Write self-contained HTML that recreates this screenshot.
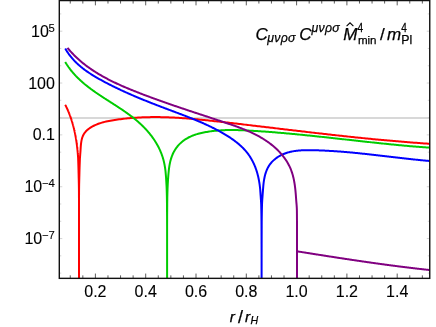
<!DOCTYPE html><html><head><meta charset="utf-8"><title>plot</title><style>html,body{margin:0;padding:0;background:#fff;overflow:hidden}svg{display:block}text{font-family:"Liberation Sans",sans-serif}</style></head><body><svg width="436" height="327" viewBox="0 0 436 327" style="will-change:transform">
<rect width="436" height="327" fill="#fff"/>
<clipPath id="c"><rect x="59.3" y="0.55" width="370.45" height="277.8"/></clipPath>
<line x1="59.3" x2="429.75" y1="118.0" y2="118.0" stroke="#d8d8d8" stroke-width="2"/>
<path d="M59.3 273.12h2.0 M429.75 273.12h-2.0 M59.3 255.84h2.0 M429.75 255.84h-2.0 M59.3 238.56h3.0 M429.75 238.56h-3.0 M59.3 221.28h2.0 M429.75 221.28h-2.0 M59.3 204.00h2.0 M429.75 204.00h-2.0 M59.3 186.72h3.0 M429.75 186.72h-3.0 M59.3 169.44h2.0 M429.75 169.44h-2.0 M59.3 152.16h2.0 M429.75 152.16h-2.0 M59.3 134.88h3.0 M429.75 134.88h-3.0 M59.3 117.60h2.0 M429.75 117.60h-2.0 M59.3 100.32h2.0 M429.75 100.32h-2.0 M59.3 83.04h3.0 M429.75 83.04h-3.0 M59.3 65.76h2.0 M429.75 65.76h-2.0 M59.3 48.48h2.0 M429.75 48.48h-2.0 M59.3 31.20h3.0 M429.75 31.20h-3.0 M59.3 13.92h2.0 M429.75 13.92h-2.0" stroke="#c8c8c8" stroke-width="0.8" fill="none"/>
<path d="M70.25 278.35v-3.0 M70.25 0.55v3.0 M82.83 278.35v-3.0 M82.83 0.55v3.0 M95.40 278.35v-4.8 M95.40 0.55v4.8 M107.98 278.35v-3.0 M107.98 0.55v3.0 M120.55 278.35v-3.0 M120.55 0.55v3.0 M133.12 278.35v-3.0 M133.12 0.55v3.0 M145.70 278.35v-4.8 M145.70 0.55v4.8 M158.28 278.35v-3.0 M158.28 0.55v3.0 M170.85 278.35v-3.0 M170.85 0.55v3.0 M183.43 278.35v-3.0 M183.43 0.55v3.0 M196.00 278.35v-4.8 M196.00 0.55v4.8 M208.57 278.35v-3.0 M208.57 0.55v3.0 M221.15 278.35v-3.0 M221.15 0.55v3.0 M233.73 278.35v-3.0 M233.73 0.55v3.0 M246.30 278.35v-4.8 M246.30 0.55v4.8 M258.88 278.35v-3.0 M258.88 0.55v3.0 M271.45 278.35v-3.0 M271.45 0.55v3.0 M284.02 278.35v-3.0 M284.02 0.55v3.0 M296.60 278.35v-4.8 M296.60 0.55v4.8 M309.18 278.35v-3.0 M309.18 0.55v3.0 M321.75 278.35v-3.0 M321.75 0.55v3.0 M334.33 278.35v-3.0 M334.33 0.55v3.0 M346.90 278.35v-4.8 M346.90 0.55v4.8 M359.48 278.35v-3.0 M359.48 0.55v3.0 M372.05 278.35v-3.0 M372.05 0.55v3.0 M384.62 278.35v-3.0 M384.62 0.55v3.0 M397.20 278.35v-4.8 M397.20 0.55v4.8 M409.78 278.35v-3.0 M409.78 0.55v3.0 M422.35 278.35v-3.0 M422.35 0.55v3.0" stroke="#333" stroke-width="0.8" fill="none"/>
<g clip-path="url(#c)" fill="none" stroke-linejoin="round" stroke-linecap="butt">
<path d="M65.21 104.69 L65.31 104.88 L65.41 105.08 L65.50 105.27 L65.60 105.46 L65.70 105.66 L65.79 105.85 L65.89 106.05 L65.99 106.24 L66.08 106.43 L66.18 106.63 L66.27 106.82 L66.36 107.02 L66.46 107.21 L66.55 107.41 L66.64 107.60 L66.73 107.80 L66.82 107.99 L66.91 108.19 L67.00 108.39 L67.09 108.58 L67.18 108.78 L67.27 108.97 L67.36 109.17 L67.45 109.37 L67.54 109.56 L67.62 109.76 L67.71 109.96 L67.80 110.15 L67.88 110.35 L67.97 110.55 L68.05 110.75 L68.14 110.94 L68.22 111.14 L68.30 111.34 L68.39 111.54 L68.47 111.73 L68.55 111.93 L68.63 112.13 L68.71 112.33 L68.80 112.53 L68.88 112.72 L68.96 112.92 L69.04 113.12 L69.11 113.32 L69.19 113.52 L69.27 113.72 L69.35 113.92 L69.43 114.12 L69.50 114.32 L69.58 114.52 L69.66 114.72 L69.73 114.91 L69.81 115.11 L69.88 115.31 L69.96 115.51 L70.03 115.71 L70.10 115.91 L70.18 116.12 L70.25 116.32 L70.32 116.52 L70.40 116.72 L70.47 116.92 L70.54 117.12 L70.61 117.32 L70.68 117.52 L70.75 117.72 L70.82 117.92 L70.89 118.12 L70.96 118.33 L71.03 118.53 L71.09 118.73 L71.16 118.93 L71.23 119.13 L71.29 119.34 L71.36 119.54 L71.43 119.74 L71.49 119.94 L71.56 120.14 L71.62 120.35 L71.69 120.55 L71.75 120.75 L71.82 120.96 L71.88 121.16 L71.94 121.36 L72.00 121.56 L72.07 121.77 L72.13 121.97 L72.19 122.17 L72.25 122.38 L72.31 122.58 L72.37 122.79 L72.43 122.99 L72.49 123.19 L72.55 123.40 L72.61 123.60 L72.67 123.81 L72.72 124.01 L72.78 124.21 L72.84 124.42 L72.90 124.62 L72.95 124.83 L73.01 125.03 L73.07 125.24 L73.12 125.44 L73.18 125.65 L73.23 125.85 L73.29 126.06 L73.34 126.26 L73.39 126.47 L73.45 126.67 L73.50 126.88 L73.55 127.08 L73.60 127.29 L73.66 127.50 L73.71 127.70 L73.76 127.91 L73.81 128.11 L73.86 128.32 L73.91 128.53 L73.96 128.73 L74.01 128.94 L74.06 129.15 L74.11 129.35 L74.16 129.56 L74.21 129.77 L74.25 129.97 L74.30 130.18 L74.35 130.39 L74.39 130.59 L74.44 130.80 L74.49 131.01 L74.53 131.21 L74.58 131.42 L74.62 131.63 L74.67 131.84 L74.71 132.04 L74.76 132.25 L74.80 132.46 L74.85 132.67 L74.89 132.87 L74.93 133.08 L74.97 133.29 L75.02 133.50 L75.06 133.71 L75.10 133.91 L75.14 134.12 L75.18 134.33 L75.22 134.54 L75.27 134.75 L75.31 134.96 L75.35 135.16 L75.38 135.37 L75.42 135.58 L75.46 135.79 L75.50 136.00 L75.54 136.21 L75.58 136.42 L75.62 136.63 L75.65 136.84 L75.69 137.04 L75.73 137.25 L75.76 137.46 L75.80 137.67 L75.84 137.88 L75.87 138.09 L75.91 138.30 L75.94 138.51 L75.98 138.72 L76.01 138.93 L76.05 139.14 L76.08 139.35 L76.12 139.56 L76.15 139.77 L76.18 139.98 L76.22 140.19 L76.25 140.40 L76.28 140.61 L76.31 140.82 L76.34 141.03 L76.38 141.24 L76.41 141.45 L76.44 141.66 L76.47 141.87 L76.50 142.08 L76.53 142.29 L76.56 142.50 L76.59 142.72 L76.62 142.93 L76.65 143.14 L76.68 143.35 L76.71 143.56 L76.74 143.77 L76.76 143.98 L76.79 144.19 L76.82 144.40 L76.85 144.61 L76.87 144.83 L76.90 145.04 L76.93 145.25 L76.95 145.46 L76.98 145.67 L77.01 145.88 L77.03 146.09 L77.06 146.31 L77.08 146.52 L77.11 146.73 L77.13 146.94 L77.16 147.15 L77.18 147.36 L77.21 147.58 L77.23 147.79 L77.25 148.00 L77.28 148.21 L77.30 148.42 L77.32 148.63 L77.34 148.85 L77.37 149.06 L77.39 149.27 L77.41 149.48 L77.43 149.70 L77.45 149.91 L77.48 150.12 L77.50 150.33 L77.52 150.54 L77.54 150.76 L77.56 150.97 L77.58 151.18 L77.60 151.39 L77.62 151.61 L77.64 151.82 L77.66 152.03 L77.68 152.24 L77.70 152.46 L77.72 152.67 L77.73 152.88 L77.75 153.10 L77.77 153.31 L77.79 153.52 L77.81 153.73 L77.82 153.95 L77.84 154.16 L77.86 154.37 L77.88 154.59 L77.89 154.80 L77.91 155.01 L77.93 155.22 L77.94 155.44 L77.96 155.65 L77.97 155.86 L77.99 156.08 L78.00 156.29 L78.02 156.50 L78.04 156.72 L78.05 156.93 L78.06 157.14 L78.08 157.36 L78.09 157.57 L78.11 157.78 L78.12 158.00 L78.21 160.45 L78.29 162.91 L78.37 165.36 L78.44 167.82 L78.51 170.28 L78.57 172.73 L78.63 175.19 L78.69 177.65 L78.75 180.10 L78.81 182.56 L78.86 185.01 L78.90 187.47 L78.93 189.93 L78.95 192.38 L78.96 194.84 L78.97 197.30 L78.98 199.75 L78.99 202.21 L78.99 204.66 L79.00 207.12 L79.00 209.58 L79.00 212.03 L79.00 214.49 L79.00 216.94 L79.00 219.40 L79.00 221.86 L79.00 224.31 L79.00 226.77 L79.00 229.23 L79.00 231.68 L79.00 234.14 L79.00 236.59 L79.00 239.05 L79.00 241.51 L79.00 243.96 L79.00 246.42 L79.00 248.88 L79.00 251.33 L79.00 253.79 L79.00 256.24 L79.00 258.70 L79.00 261.16 L79.00 263.61 L79.00 266.07 L79.00 268.53 L79.00 270.98 L79.00 273.44 L79.00 275.89 L79.00 278.35 L79.00 275.89 L79.00 273.44 L79.00 270.98 L79.00 268.53 L79.00 266.07 L79.00 263.62 L79.00 261.16 L79.00 258.71 L79.00 256.25 L79.00 253.80 L79.00 251.34 L79.00 248.89 L79.00 246.43 L79.00 243.98 L79.00 241.52 L79.00 239.07 L79.00 236.61 L79.00 234.16 L79.00 231.70 L79.00 229.25 L79.00 226.79 L79.00 224.34 L79.00 221.88 L79.00 219.43 L79.00 216.97 L79.00 214.52 L79.00 212.06 L79.00 209.61 L79.00 207.15 L79.01 204.70 L79.01 202.24 L79.02 199.79 L79.03 197.33 L79.04 194.87 L79.05 192.42 L79.06 189.96 L79.09 187.51 L79.13 185.05 L79.18 182.60 L79.24 180.14 L79.30 177.69 L79.37 175.23 L79.43 172.78 L79.50 170.32 L79.57 167.87 L79.65 165.41 L79.75 162.96 L79.84 160.50 L79.94 158.05 L80.05 156.63 L80.16 155.21 L80.27 153.78 L80.38 152.34 L80.49 150.87 L80.58 149.38 L80.68 147.88 L80.78 146.37 L80.91 144.85 L81.07 143.35 L81.28 141.86 L81.54 140.40 L81.86 138.97 L82.26 137.59 L82.75 136.25 L83.34 134.98 L84.04 133.77 L84.84 132.63 L85.73 131.56 L86.72 130.56 L87.77 129.62 L88.89 128.74 L90.07 127.91 L91.28 127.14 L92.53 126.42 L93.80 125.76 L95.10 125.14 L96.41 124.56 L97.75 124.03 L99.11 123.53 L100.48 123.08 L101.87 122.65 L103.27 122.26 L104.69 121.90 L106.11 121.57 L107.54 121.26 L108.98 120.97 L110.43 120.69 L111.88 120.44 L113.33 120.20 L114.78 119.97 L116.23 119.75 L117.68 119.54 L119.14 119.34 L120.59 119.15 L122.04 118.96 L123.49 118.79 L124.94 118.63 L126.39 118.47 L127.84 118.33 L129.29 118.19 L130.74 118.06 L132.19 117.94 L133.64 117.83 L135.09 117.73 L136.54 117.63 L137.99 117.55 L139.43 117.47 L140.88 117.40 L142.33 117.33 L143.78 117.28 L145.23 117.23 L146.68 117.19 L148.12 117.16 L149.57 117.13 L151.02 117.11 L152.47 117.09 L153.91 117.09 L155.36 117.09 L156.81 117.09 L158.25 117.11 L159.70 117.12 L161.15 117.15 L162.59 117.18 L164.04 117.22 L165.48 117.26 L166.93 117.31 L168.38 117.36 L169.82 117.42 L171.27 117.48 L172.71 117.55 L174.16 117.62 L175.60 117.70 L177.05 117.78 L178.49 117.87 L179.94 117.96 L181.38 118.05 L182.83 118.15 L184.27 118.26 L185.72 118.36 L187.16 118.48 L188.60 118.59 L190.05 118.71 L191.49 118.83 L192.94 118.96 L194.38 119.08 L195.82 119.22 L197.27 119.35 L198.71 119.49 L200.15 119.63 L201.60 119.77 L203.04 119.91 L204.48 120.06 L205.93 120.21 L207.37 120.36 L208.81 120.51 L210.25 120.66 L211.70 120.82 L213.14 120.98 L214.58 121.14 L216.02 121.30 L217.47 121.46 L218.91 121.62 L220.35 121.78 L221.79 121.94 L223.24 122.11 L224.68 122.27 L226.12 122.44 L227.56 122.60 L229.01 122.77 L230.45 122.94 L231.89 123.10 L233.33 123.27 L234.77 123.44 L236.21 123.60 L237.66 123.77 L239.10 123.94 L240.54 124.11 L241.98 124.28 L243.42 124.45 L244.87 124.62 L246.31 124.79 L247.75 124.96 L249.19 125.13 L250.63 125.30 L252.07 125.47 L253.51 125.64 L254.96 125.81 L256.40 125.98 L257.84 126.15 L259.28 126.32 L260.72 126.49 L262.16 126.66 L263.60 126.83 L265.04 127.01 L266.49 127.18 L267.93 127.35 L269.37 127.52 L270.81 127.69 L272.25 127.86 L273.69 128.04 L275.13 128.21 L276.57 128.38 L278.02 128.55 L279.46 128.72 L280.90 128.89 L282.34 129.06 L283.78 129.24 L285.22 129.41 L286.66 129.58 L288.10 129.75 L289.55 129.92 L290.99 130.09 L292.43 130.26 L293.87 130.43 L295.31 130.60 L296.75 130.77 L298.19 130.94 L299.64 131.11 L301.08 131.28 L302.52 131.45 L303.96 131.61 L305.40 131.78 L306.84 131.95 L308.28 132.12 L309.73 132.29 L311.17 132.45 L312.61 132.62 L314.05 132.79 L315.49 132.95 L316.93 133.12 L318.38 133.28 L319.82 133.45 L321.26 133.61 L322.70 133.77 L324.14 133.94 L325.59 134.10 L327.03 134.26 L328.47 134.42 L329.91 134.59 L331.35 134.75 L332.80 134.91 L334.24 135.07 L335.68 135.23 L337.12 135.38 L338.57 135.54 L340.01 135.70 L341.45 135.86 L342.89 136.01 L344.34 136.17 L345.78 136.32 L347.22 136.48 L348.66 136.63 L350.11 136.79 L351.55 136.94 L352.99 137.09 L354.44 137.24 L355.88 137.39 L357.32 137.54 L358.77 137.69 L360.21 137.84 L361.65 137.98 L363.10 138.13 L364.54 138.27 L365.98 138.42 L367.43 138.56 L368.87 138.71 L370.32 138.85 L371.76 138.99 L373.20 139.13 L374.65 139.27 L376.09 139.41 L377.54 139.54 L378.98 139.68 L380.43 139.82 L381.87 139.95 L383.32 140.09 L384.76 140.22 L386.21 140.35 L387.65 140.48 L389.10 140.61 L390.54 140.74 L391.99 140.87 L393.43 140.99 L394.88 141.12 L396.32 141.24 L397.77 141.37 L399.22 141.49 L400.66 141.61 L402.11 141.73 L403.56 141.85 L405.00 141.97 L406.45 142.08 L407.90 142.20 L409.34 142.31 L410.79 142.42 L412.24 142.54 L413.68 142.65 L415.13 142.75 L416.58 142.86 L418.03 142.97 L419.47 143.07 L420.92 143.18 L422.37 143.28 L423.82 143.38 L425.27 143.48 L426.71 143.58 L428.16 143.68 L429.61 143.77" stroke="#ff0000" stroke-width="2.0"/>
<path d="M65.19 61.95 L65.50 62.47 L65.82 62.99 L66.14 63.51 L66.47 64.02 L66.79 64.53 L67.12 65.03 L67.46 65.53 L67.80 66.03 L68.14 66.52 L68.48 67.01 L68.83 67.49 L69.18 67.98 L69.54 68.45 L69.89 68.93 L70.25 69.40 L70.62 69.87 L70.99 70.33 L71.36 70.80 L71.73 71.25 L72.10 71.71 L72.48 72.16 L72.87 72.61 L73.25 73.05 L73.64 73.50 L74.03 73.94 L74.42 74.37 L74.82 74.81 L75.22 75.24 L75.62 75.66 L76.02 76.09 L76.43 76.51 L76.84 76.93 L77.25 77.35 L77.66 77.76 L78.08 78.17 L78.50 78.58 L78.92 78.98 L79.35 79.39 L79.77 79.79 L80.20 80.19 L80.63 80.58 L81.06 80.98 L81.50 81.37 L81.94 81.76 L82.38 82.14 L82.82 82.53 L83.26 82.91 L83.71 83.29 L84.15 83.67 L84.60 84.04 L85.05 84.42 L85.51 84.79 L85.96 85.16 L86.42 85.53 L86.88 85.89 L87.34 86.26 L87.80 86.62 L88.26 86.98 L88.73 87.34 L89.19 87.69 L89.66 88.05 L90.13 88.40 L90.60 88.76 L91.08 89.11 L91.55 89.45 L92.03 89.80 L92.50 90.15 L92.98 90.49 L93.46 90.84 L93.94 91.18 L94.42 91.52 L94.90 91.86 L95.39 92.20 L95.87 92.54 L96.36 92.87 L96.85 93.21 L97.34 93.54 L97.82 93.87 L98.31 94.21 L98.80 94.54 L99.30 94.87 L99.79 95.20 L100.28 95.53 L100.78 95.85 L101.27 96.18 L101.77 96.51 L102.26 96.83 L102.76 97.16 L103.25 97.48 L103.75 97.81 L104.25 98.13 L104.75 98.46 L105.25 98.78 L105.75 99.10 L106.25 99.42 L106.75 99.74 L107.25 100.07 L107.75 100.39 L108.25 100.71 L108.75 101.03 L109.25 101.35 L109.75 101.67 L110.25 101.99 L110.75 102.31 L111.25 102.63 L111.75 102.95 L112.25 103.27 L112.75 103.60 L113.25 103.92 L113.75 104.24 L114.25 104.56 L114.75 104.88 L115.25 105.20 L115.75 105.53 L116.25 105.85 L116.75 106.18 L117.25 106.50 L117.74 106.82 L118.24 107.15 L118.74 107.48 L119.23 107.80 L119.73 108.13 L120.22 108.46 L120.72 108.79 L121.21 109.12 L121.70 109.45 L122.19 109.78 L122.68 110.11 L123.17 110.44 L123.66 110.78 L124.15 111.11 L124.64 111.45 L125.12 111.79 L125.61 112.13 L126.09 112.47 L126.58 112.81 L127.06 113.15 L127.54 113.50 L128.02 113.84 L128.49 114.19 L128.97 114.54 L129.45 114.89 L129.92 115.24 L130.39 115.59 L130.86 115.94 L131.33 116.30 L131.80 116.66 L132.27 117.02 L132.73 117.38 L133.20 117.74 L133.66 118.10 L134.12 118.47 L134.58 118.84 L135.03 119.21 L135.49 119.58 L135.94 119.96 L136.39 120.33 L136.84 120.71 L137.29 121.09 L137.74 121.47 L138.18 121.86 L138.62 122.25 L139.06 122.64 L139.50 123.03 L139.93 123.42 L140.36 123.82 L140.79 124.22 L141.22 124.62 L141.65 125.02 L142.07 125.43 L142.49 125.84 L142.91 126.25 L143.33 126.66 L143.74 127.08 L144.16 127.50 L144.56 127.92 L144.97 128.35 L145.37 128.77 L145.78 129.20 L146.17 129.63 L146.57 130.07 L146.96 130.51 L147.35 130.94 L147.74 131.39 L148.12 131.83 L148.50 132.28 L148.88 132.73 L149.26 133.18 L149.63 133.63 L150.00 134.09 L150.36 134.55 L150.72 135.01 L151.08 135.47 L151.44 135.94 L151.79 136.40 L152.14 136.88 L152.48 137.35 L152.82 137.82 L153.16 138.30 L153.50 138.78 L153.83 139.26 L154.15 139.75 L154.48 140.24 L154.80 140.72 L155.11 141.22 L155.42 141.71 L155.73 142.21 L156.04 142.71 L156.34 143.21 L156.63 143.71 L156.92 144.22 L157.21 144.72 L157.50 145.23 L157.78 145.75 L158.05 146.26 L158.32 146.78 L158.59 147.30 L158.85 147.82 L159.11 148.34 L159.36 148.87 L159.61 149.40 L159.85 149.93 L160.09 150.46 L160.33 150.99 L160.56 151.53 L160.79 152.07 L161.01 152.61 L161.22 153.15 L161.43 153.70 L161.64 154.25 L161.84 154.80 L162.04 155.35 L162.23 155.90 L162.42 156.46 L162.60 157.02 L162.77 157.58 L162.94 158.14 L163.11 158.71 L163.27 159.27 L163.43 159.84 L163.58 160.41 L163.72 160.98 L163.86 161.56 L163.99 162.14 L164.12 162.72 L164.25 163.30 L164.37 163.88 L164.48 164.46 L164.60 165.05 L164.70 165.63 L164.80 166.22 L164.90 166.81 L165.00 167.40 L165.09 167.99 L165.17 168.58 L165.25 169.17 L165.33 169.77 L165.41 170.36 L165.48 170.96 L165.68 173.15 L165.87 175.34 L166.04 177.53 L166.18 179.72 L166.32 181.92 L166.44 184.11 L166.55 186.30 L166.65 188.49 L166.72 190.68 L166.79 192.87 L166.85 195.07 L166.89 197.26 L166.93 199.45 L166.96 201.64 L166.98 203.83 L166.99 206.02 L167.01 208.22 L167.03 210.41 L167.04 212.60 L167.05 214.79 L167.07 216.98 L167.08 219.17 L167.08 221.37 L167.09 223.56 L167.10 225.75 L167.10 227.94 L167.10 230.13 L167.10 232.32 L167.10 234.52 L167.10 236.71 L167.10 238.90 L167.10 241.09 L167.10 243.28 L167.10 245.47 L167.10 247.67 L167.10 249.86 L167.10 252.05 L167.10 254.24 L167.10 256.43 L167.10 258.62 L167.10 260.82 L167.10 263.01 L167.10 265.20 L167.10 267.39 L167.10 269.58 L167.10 271.77 L167.10 273.97 L167.10 276.16 L167.10 278.35 L167.10 276.16 L167.10 273.97 L167.10 271.78 L167.10 269.59 L167.10 267.40 L167.10 265.21 L167.10 263.02 L167.10 260.83 L167.10 258.64 L167.10 256.45 L167.10 254.26 L167.10 252.07 L167.10 249.88 L167.10 247.69 L167.10 245.50 L167.10 243.31 L167.10 241.12 L167.10 238.93 L167.10 236.74 L167.10 234.55 L167.10 232.36 L167.10 230.17 L167.10 227.98 L167.10 225.79 L167.11 223.60 L167.12 221.41 L167.12 219.22 L167.13 217.04 L167.14 214.85 L167.16 212.66 L167.17 210.47 L167.19 208.28 L167.21 206.09 L167.22 203.90 L167.24 201.71 L167.27 199.52 L167.30 197.33 L167.35 195.14 L167.41 192.95 L167.48 190.76 L167.55 188.57 L167.64 186.38 L167.75 184.19 L167.88 182.00 L168.01 179.81 L168.16 177.62 L168.32 175.43 L168.51 173.24 L168.72 171.05 L168.84 169.92 L168.98 168.79 L169.13 167.66 L169.29 166.54 L169.47 165.43 L169.67 164.32 L169.89 163.21 L170.13 162.12 L170.39 161.03 L170.67 159.96 L170.98 158.89 L171.31 157.84 L171.67 156.80 L172.05 155.77 L172.46 154.76 L172.90 153.77 L173.36 152.80 L173.85 151.84 L174.37 150.90 L174.92 149.98 L175.50 149.08 L176.10 148.20 L176.73 147.35 L177.39 146.51 L178.07 145.70 L178.78 144.91 L179.51 144.14 L180.27 143.39 L181.05 142.67 L181.85 141.97 L182.67 141.30 L183.51 140.65 L184.38 140.02 L185.26 139.42 L186.17 138.84 L187.09 138.29 L188.03 137.76 L188.99 137.26 L189.96 136.79 L190.95 136.33 L191.96 135.91 L192.97 135.50 L194.00 135.12 L195.04 134.75 L196.09 134.41 L197.15 134.09 L198.22 133.78 L199.30 133.49 L200.38 133.22 L201.47 132.96 L202.56 132.72 L203.66 132.49 L204.75 132.28 L205.85 132.08 L206.95 131.89 L208.05 131.71 L209.15 131.54 L210.25 131.38 L211.35 131.23 L212.45 131.09 L213.55 130.96 L214.65 130.85 L215.74 130.74 L216.84 130.63 L217.94 130.54 L219.04 130.46 L220.13 130.38 L221.23 130.32 L222.33 130.26 L223.43 130.20 L224.52 130.16 L225.62 130.12 L226.71 130.09 L227.81 130.07 L228.91 130.05 L230.00 130.04 L231.10 130.03 L232.19 130.03 L233.29 130.04 L234.38 130.05 L235.48 130.07 L236.57 130.09 L237.66 130.11 L238.76 130.14 L239.85 130.18 L240.95 130.21 L242.04 130.26 L243.13 130.30 L244.23 130.35 L245.32 130.40 L246.41 130.45 L247.51 130.51 L248.60 130.57 L249.69 130.63 L250.79 130.69 L251.88 130.75 L252.97 130.82 L254.06 130.88 L255.16 130.95 L256.25 131.02 L257.34 131.09 L258.43 131.16 L259.53 131.23 L260.62 131.30 L261.71 131.38 L262.80 131.45 L263.89 131.53 L264.99 131.61 L266.08 131.69 L267.17 131.77 L268.26 131.85 L269.35 131.93 L270.44 132.02 L271.54 132.10 L272.63 132.19 L273.72 132.27 L274.81 132.36 L275.90 132.45 L276.99 132.54 L278.08 132.63 L279.17 132.72 L280.26 132.81 L281.35 132.91 L282.45 133.00 L283.54 133.10 L284.63 133.19 L285.72 133.29 L286.81 133.39 L287.90 133.49 L288.99 133.59 L290.08 133.69 L291.17 133.79 L292.26 133.89 L293.35 133.99 L294.44 134.09 L295.53 134.20 L296.62 134.30 L297.71 134.41 L298.80 134.51 L299.89 134.62 L300.98 134.73 L302.07 134.84 L303.16 134.94 L304.25 135.05 L305.34 135.16 L306.43 135.27 L307.52 135.39 L308.61 135.50 L309.70 135.61 L310.79 135.72 L311.88 135.83 L312.97 135.95 L314.05 136.06 L315.14 136.18 L316.23 136.29 L317.32 136.41 L318.41 136.52 L319.50 136.64 L320.59 136.75 L321.68 136.87 L322.77 136.99 L323.86 137.10 L324.95 137.22 L326.04 137.34 L327.13 137.46 L328.22 137.58 L329.30 137.70 L330.39 137.82 L331.48 137.93 L332.57 138.05 L333.66 138.17 L334.75 138.29 L335.84 138.41 L336.93 138.53 L338.02 138.65 L339.11 138.77 L340.20 138.90 L341.29 139.02 L342.37 139.14 L343.46 139.26 L344.55 139.38 L345.64 139.50 L346.73 139.62 L347.82 139.74 L348.91 139.86 L350.00 139.98 L351.09 140.10 L352.18 140.22 L353.27 140.34 L354.35 140.46 L355.44 140.58 L356.53 140.71 L357.62 140.83 L358.71 140.95 L359.80 141.06 L360.89 141.18 L361.98 141.30 L363.07 141.42 L364.16 141.54 L365.25 141.66 L366.34 141.78 L367.43 141.90 L368.52 142.02 L369.61 142.13 L370.70 142.25 L371.78 142.37 L372.87 142.48 L373.96 142.60 L375.05 142.72 L376.14 142.83 L377.23 142.95 L378.32 143.06 L379.41 143.17 L380.50 143.29 L381.59 143.40 L382.68 143.51 L383.77 143.63 L384.86 143.74 L385.95 143.85 L387.04 143.96 L388.13 144.07 L389.22 144.18 L390.31 144.29 L391.40 144.40 L392.49 144.50 L393.58 144.61 L394.67 144.72 L395.76 144.82 L396.85 144.93 L397.95 145.03 L399.04 145.14 L400.13 145.24 L401.22 145.34 L402.31 145.44 L403.40 145.54 L404.49 145.64 L405.58 145.74 L406.67 145.84 L407.76 145.94 L408.85 146.03 L409.95 146.13 L411.04 146.22 L412.13 146.32 L413.22 146.41 L414.31 146.50 L415.40 146.59 L416.49 146.68 L417.59 146.77 L418.68 146.86 L419.77 146.95 L420.86 147.03 L421.95 147.12 L423.05 147.20 L424.14 147.29 L425.23 147.37 L426.32 147.45 L427.42 147.53 L428.51 147.61 L429.60 147.69" stroke="#00cc00" stroke-width="2.0"/>
<path d="M65.21 48.40 L65.72 49.29 L66.24 50.16 L66.77 51.03 L67.31 51.87 L67.87 52.71 L68.43 53.53 L69.01 54.34 L69.60 55.14 L70.20 55.92 L70.81 56.69 L71.43 57.45 L72.06 58.20 L72.70 58.94 L73.35 59.67 L74.01 60.38 L74.68 61.09 L75.36 61.78 L76.04 62.46 L76.74 63.14 L77.44 63.80 L78.15 64.45 L78.87 65.10 L79.60 65.73 L80.34 66.36 L81.08 66.98 L81.83 67.58 L82.58 68.18 L83.35 68.78 L84.12 69.36 L84.89 69.94 L85.67 70.51 L86.46 71.07 L87.25 71.62 L88.05 72.17 L88.86 72.71 L89.66 73.25 L90.48 73.78 L91.29 74.30 L92.12 74.82 L92.94 75.33 L93.77 75.84 L94.60 76.34 L95.44 76.84 L96.28 77.33 L97.12 77.82 L97.97 78.30 L98.81 78.78 L99.66 79.26 L100.52 79.73 L101.37 80.20 L102.22 80.67 L103.08 81.13 L103.94 81.59 L104.80 82.05 L105.66 82.51 L106.52 82.96 L107.38 83.41 L108.25 83.86 L109.12 84.30 L109.98 84.75 L110.85 85.19 L111.72 85.62 L112.59 86.06 L113.47 86.49 L114.34 86.92 L115.21 87.35 L116.09 87.77 L116.97 88.20 L117.84 88.62 L118.72 89.03 L119.60 89.45 L120.49 89.86 L121.37 90.28 L122.25 90.69 L123.14 91.09 L124.02 91.50 L124.91 91.90 L125.80 92.30 L126.68 92.70 L127.57 93.10 L128.46 93.50 L129.35 93.89 L130.25 94.28 L131.14 94.67 L132.03 95.06 L132.93 95.45 L133.82 95.83 L134.72 96.21 L135.62 96.59 L136.51 96.97 L137.41 97.35 L138.31 97.73 L139.21 98.10 L140.11 98.48 L141.01 98.85 L141.91 99.22 L142.82 99.59 L143.72 99.96 L144.62 100.33 L145.53 100.69 L146.43 101.05 L147.34 101.42 L148.24 101.78 L149.15 102.14 L150.06 102.50 L150.96 102.86 L151.87 103.22 L152.78 103.57 L153.69 103.93 L154.60 104.28 L155.50 104.63 L156.41 104.99 L157.32 105.34 L158.23 105.69 L159.15 106.04 L160.06 106.39 L160.97 106.74 L161.88 107.08 L162.79 107.43 L163.70 107.78 L164.61 108.12 L165.53 108.47 L166.44 108.81 L167.35 109.16 L168.26 109.50 L169.18 109.84 L170.09 110.19 L171.00 110.53 L171.92 110.87 L172.83 111.21 L173.74 111.55 L174.65 111.90 L175.57 112.24 L176.48 112.58 L177.39 112.92 L178.30 113.27 L179.21 113.61 L180.13 113.95 L181.04 114.30 L181.95 114.64 L182.86 114.99 L183.77 115.34 L184.68 115.69 L185.58 116.04 L186.49 116.39 L187.40 116.74 L188.31 117.10 L189.21 117.45 L190.12 117.81 L191.02 118.17 L191.92 118.53 L192.83 118.89 L193.73 119.26 L194.63 119.63 L195.53 119.99 L196.42 120.37 L197.32 120.74 L198.22 121.12 L199.11 121.50 L200.01 121.88 L200.90 122.26 L201.79 122.65 L202.68 123.04 L203.57 123.44 L204.45 123.83 L205.34 124.23 L206.22 124.64 L207.11 125.04 L207.99 125.45 L208.87 125.87 L209.74 126.29 L210.62 126.71 L211.49 127.13 L212.37 127.56 L213.24 128.00 L214.11 128.44 L214.97 128.88 L215.84 129.33 L216.70 129.78 L217.56 130.23 L218.42 130.70 L219.28 131.16 L220.13 131.63 L220.98 132.11 L221.83 132.59 L222.68 133.07 L223.53 133.56 L224.37 134.06 L225.21 134.56 L226.05 135.07 L226.88 135.58 L227.72 136.10 L228.54 136.63 L229.36 137.16 L230.18 137.70 L230.99 138.25 L231.80 138.80 L232.60 139.36 L233.40 139.93 L234.19 140.50 L234.97 141.09 L235.74 141.68 L236.51 142.28 L237.27 142.89 L238.02 143.50 L238.76 144.13 L239.50 144.76 L240.22 145.41 L240.94 146.06 L241.64 146.72 L242.34 147.40 L243.02 148.08 L243.69 148.77 L244.35 149.47 L245.00 150.19 L245.64 150.91 L246.26 151.65 L246.87 152.40 L247.47 153.15 L248.06 153.92 L248.63 154.70 L249.18 155.50 L249.73 156.30 L250.25 157.12 L250.77 157.95 L251.26 158.79 L251.75 159.64 L252.22 160.49 L252.67 161.36 L253.11 162.24 L253.54 163.12 L253.95 164.01 L254.35 164.91 L254.74 165.82 L255.11 166.73 L255.46 167.65 L255.80 168.57 L256.13 169.50 L256.45 170.43 L256.75 171.37 L257.03 172.30 L257.31 173.25 L257.57 174.19 L257.81 175.14 L258.05 176.08 L258.27 177.03 L258.48 177.98 L258.67 178.94 L258.86 179.89 L259.03 180.85 L259.20 181.81 L259.36 182.77 L259.50 183.73 L259.64 184.69 L259.77 185.65 L259.89 186.62 L260.00 187.58 L260.11 188.55 L260.20 189.52 L260.33 191.33 L260.46 193.14 L260.58 194.96 L260.71 196.77 L260.84 198.58 L260.97 200.39 L261.08 202.21 L261.17 204.02 L261.22 205.83 L261.26 207.65 L261.30 209.46 L261.34 211.27 L261.37 213.09 L261.40 214.90 L261.42 216.71 L261.44 218.52 L261.46 220.34 L261.48 222.15 L261.49 223.96 L261.50 225.78 L261.51 227.59 L261.51 229.40 L261.52 231.21 L261.52 233.03 L261.53 234.84 L261.54 236.65 L261.54 238.47 L261.55 240.28 L261.55 242.09 L261.56 243.90 L261.56 245.72 L261.57 247.53 L261.57 249.34 L261.57 251.16 L261.58 252.97 L261.58 254.78 L261.58 256.60 L261.59 258.41 L261.59 260.22 L261.59 262.03 L261.59 263.85 L261.59 265.66 L261.60 267.47 L261.60 269.29 L261.60 271.10 L261.60 272.91 L261.60 274.72 L261.60 276.54 L261.60 278.35 L261.60 276.53 L261.60 274.70 L261.60 272.88 L261.60 271.06 L261.60 269.24 L261.60 267.41 L261.61 265.59 L261.61 263.77 L261.61 261.95 L261.61 260.12 L261.61 258.30 L261.62 256.48 L261.62 254.66 L261.62 252.83 L261.63 251.01 L261.63 249.19 L261.64 247.37 L261.64 245.54 L261.64 243.72 L261.65 241.90 L261.65 240.08 L261.66 238.25 L261.66 236.43 L261.67 234.61 L261.68 232.79 L261.68 230.96 L261.69 229.14 L261.70 227.32 L261.70 225.50 L261.71 223.67 L261.72 221.85 L261.74 220.03 L261.76 218.21 L261.78 216.38 L261.81 214.56 L261.84 212.74 L261.87 210.91 L261.91 209.09 L261.95 207.27 L261.99 205.45 L262.05 203.62 L262.14 201.80 L262.25 199.98 L262.38 198.16 L262.52 196.33 L262.65 194.51 L262.78 192.69 L262.92 190.87 L263.07 189.04 L263.12 188.30 L263.17 187.56 L263.23 186.82 L263.29 186.08 L263.36 185.34 L263.43 184.60 L263.51 183.86 L263.59 183.12 L263.69 182.38 L263.79 181.64 L263.89 180.90 L264.01 180.16 L264.13 179.43 L264.27 178.69 L264.41 177.96 L264.56 177.23 L264.72 176.50 L264.90 175.78 L265.08 175.05 L265.28 174.34 L265.49 173.63 L265.71 172.92 L265.94 172.22 L266.19 171.52 L266.45 170.83 L266.73 170.15 L267.01 169.48 L267.32 168.81 L267.64 168.16 L267.97 167.51 L268.32 166.87 L268.69 166.25 L269.07 165.63 L269.47 165.03 L269.89 164.43 L270.32 163.85 L270.77 163.28 L271.24 162.73 L271.72 162.18 L272.22 161.65 L272.73 161.13 L273.25 160.62 L273.79 160.13 L274.34 159.65 L274.90 159.18 L275.47 158.72 L276.05 158.28 L276.64 157.85 L277.24 157.43 L277.85 157.03 L278.47 156.64 L279.09 156.26 L279.72 155.89 L280.36 155.54 L281.00 155.21 L281.65 154.89 L282.31 154.58 L282.96 154.28 L283.63 154.00 L284.29 153.73 L284.96 153.47 L285.64 153.23 L286.32 152.99 L287.00 152.77 L287.69 152.56 L288.38 152.36 L289.08 152.17 L289.78 151.99 L290.48 151.82 L291.19 151.67 L291.89 151.52 L292.61 151.38 L293.32 151.25 L294.04 151.13 L294.76 151.02 L295.48 150.91 L296.21 150.82 L296.94 150.73 L297.67 150.65 L298.40 150.57 L299.13 150.51 L299.87 150.45 L300.61 150.40 L301.35 150.35 L302.09 150.31 L302.83 150.27 L303.57 150.24 L304.32 150.22 L305.06 150.20 L305.81 150.18 L306.56 150.17 L307.31 150.17 L308.05 150.16 L308.80 150.16 L309.55 150.17 L310.30 150.17 L311.05 150.18 L311.80 150.19 L312.55 150.21 L313.30 150.22 L314.05 150.24 L314.80 150.26 L315.54 150.28 L316.29 150.30 L317.04 150.32 L317.78 150.34 L318.53 150.37 L319.27 150.40 L320.01 150.42 L320.76 150.45 L321.50 150.48 L322.24 150.51 L322.98 150.54 L323.73 150.58 L324.47 150.61 L325.21 150.65 L325.95 150.68 L326.69 150.72 L327.42 150.76 L328.16 150.80 L328.90 150.84 L329.64 150.88 L330.37 150.92 L331.11 150.97 L331.85 151.01 L332.58 151.06 L333.32 151.10 L334.05 151.15 L334.79 151.20 L335.52 151.25 L336.26 151.30 L336.99 151.35 L337.72 151.40 L338.45 151.46 L339.19 151.51 L339.92 151.57 L340.65 151.62 L341.38 151.68 L342.11 151.74 L342.84 151.80 L343.57 151.85 L344.30 151.91 L345.03 151.97 L345.76 152.04 L346.49 152.10 L347.22 152.16 L347.95 152.23 L348.68 152.29 L349.41 152.36 L350.13 152.42 L350.86 152.49 L351.59 152.55 L352.32 152.62 L353.04 152.69 L353.77 152.76 L354.50 152.83 L355.22 152.90 L355.95 152.97 L356.67 153.04 L357.40 153.11 L358.12 153.19 L358.85 153.26 L359.58 153.33 L360.30 153.41 L361.03 153.48 L361.75 153.56 L362.48 153.63 L363.20 153.71 L363.92 153.79 L364.65 153.86 L365.37 153.94 L366.10 154.02 L366.82 154.10 L367.55 154.18 L368.27 154.26 L368.99 154.34 L369.72 154.42 L370.44 154.50 L371.17 154.58 L371.89 154.66 L372.61 154.74 L373.34 154.82 L374.06 154.90 L374.79 154.98 L375.51 155.07 L376.23 155.15 L376.96 155.23 L377.68 155.31 L378.40 155.40 L379.13 155.48 L379.85 155.56 L380.58 155.65 L381.30 155.73 L382.03 155.81 L382.75 155.90 L383.47 155.98 L384.20 156.07 L384.92 156.15 L385.65 156.24 L386.37 156.32 L387.10 156.41 L387.82 156.49 L388.55 156.58 L389.27 156.66 L390.00 156.74 L390.73 156.83 L391.45 156.91 L392.18 157.00 L392.90 157.08 L393.63 157.17 L394.36 157.25 L395.08 157.34 L395.81 157.42 L396.54 157.51 L397.27 157.59 L397.99 157.67 L398.72 157.76 L399.45 157.84 L400.18 157.93 L400.91 158.01 L401.64 158.09 L402.37 158.18 L403.10 158.26 L403.83 158.34 L404.56 158.42 L405.29 158.50 L406.02 158.59 L406.75 158.67 L407.48 158.75 L408.21 158.83 L408.94 158.91 L409.68 158.99 L410.41 159.07 L411.14 159.15 L411.88 159.23 L412.61 159.31 L413.35 159.39 L414.08 159.47 L414.82 159.54 L415.55 159.62 L416.29 159.70 L417.02 159.77 L417.76 159.85 L418.50 159.92 L419.24 160.00 L419.98 160.07 L420.71 160.15 L421.45 160.22 L422.19 160.29 L422.93 160.37 L423.67 160.44 L424.42 160.51 L425.16 160.58 L425.90 160.65 L426.64 160.72 L427.39 160.79 L428.13 160.85 L428.87 160.92 L429.62 160.99" stroke="#0000ff" stroke-width="2.0"/>
<path d="M67.50 47.87 L68.23 48.75 L68.97 49.62 L69.72 50.48 L70.47 51.32 L71.24 52.16 L72.01 52.99 L72.79 53.81 L73.57 54.62 L74.37 55.42 L75.17 56.21 L75.98 56.99 L76.79 57.76 L77.62 58.53 L78.45 59.28 L79.29 60.02 L80.13 60.76 L80.98 61.48 L81.84 62.20 L82.70 62.91 L83.57 63.61 L84.45 64.31 L85.33 64.99 L86.22 65.67 L87.11 66.34 L88.02 67.00 L88.92 67.65 L89.83 68.29 L90.75 68.93 L91.67 69.56 L92.60 70.19 L93.53 70.80 L94.47 71.41 L95.42 72.01 L96.36 72.61 L97.32 73.20 L98.27 73.78 L99.24 74.35 L100.20 74.92 L101.17 75.48 L102.15 76.04 L103.13 76.59 L104.11 77.14 L105.10 77.67 L106.09 78.21 L107.08 78.73 L108.08 79.26 L109.08 79.77 L110.09 80.28 L111.09 80.79 L112.10 81.29 L113.12 81.79 L114.13 82.28 L115.15 82.77 L116.18 83.25 L117.20 83.73 L118.23 84.20 L119.26 84.67 L120.29 85.13 L121.32 85.60 L122.36 86.05 L123.40 86.51 L124.44 86.96 L125.48 87.40 L126.52 87.85 L127.56 88.28 L128.61 88.72 L129.66 89.15 L130.70 89.58 L131.75 90.01 L132.80 90.44 L133.85 90.86 L134.90 91.28 L135.96 91.69 L137.01 92.11 L138.06 92.52 L139.11 92.93 L140.17 93.34 L141.22 93.75 L142.27 94.15 L143.33 94.56 L144.38 94.96 L145.43 95.36 L146.49 95.75 L147.54 96.15 L148.60 96.54 L149.65 96.93 L150.71 97.33 L151.76 97.71 L152.82 98.10 L153.87 98.49 L154.93 98.87 L155.98 99.26 L157.04 99.64 L158.09 100.02 L159.15 100.40 L160.20 100.77 L161.26 101.15 L162.32 101.53 L163.37 101.90 L164.43 102.27 L165.49 102.64 L166.55 103.01 L167.60 103.38 L168.66 103.75 L169.72 104.12 L170.78 104.49 L171.84 104.85 L172.89 105.21 L173.95 105.58 L175.01 105.94 L176.07 106.30 L177.13 106.66 L178.19 107.02 L179.25 107.38 L180.31 107.74 L181.37 108.10 L182.43 108.46 L183.50 108.81 L184.56 109.17 L185.62 109.53 L186.68 109.88 L187.74 110.23 L188.80 110.59 L189.87 110.94 L190.93 111.30 L191.99 111.65 L193.06 112.00 L194.12 112.35 L195.19 112.71 L196.25 113.06 L197.32 113.41 L198.38 113.76 L199.45 114.11 L200.51 114.46 L201.58 114.82 L202.64 115.17 L203.71 115.52 L204.78 115.87 L205.85 116.22 L206.91 116.57 L207.98 116.92 L209.05 117.28 L210.12 117.63 L211.19 117.98 L212.26 118.33 L213.33 118.69 L214.40 119.04 L215.47 119.39 L216.54 119.75 L217.61 120.10 L218.68 120.46 L219.75 120.81 L220.83 121.17 L221.90 121.53 L222.97 121.88 L224.05 122.24 L225.12 122.60 L226.19 122.96 L227.27 123.32 L228.34 123.68 L229.41 124.05 L230.49 124.41 L231.56 124.78 L232.63 125.15 L233.70 125.53 L234.77 125.91 L235.84 126.29 L236.90 126.67 L237.97 127.06 L239.03 127.46 L240.09 127.86 L241.14 128.26 L242.20 128.67 L243.25 129.08 L244.30 129.51 L245.35 129.93 L246.39 130.37 L247.43 130.81 L248.46 131.25 L249.49 131.71 L250.52 132.17 L251.55 132.64 L252.56 133.12 L253.58 133.61 L254.59 134.10 L255.59 134.61 L256.59 135.12 L257.59 135.65 L258.57 136.18 L259.56 136.73 L260.53 137.28 L261.50 137.85 L262.47 138.42 L263.43 139.01 L264.38 139.61 L265.32 140.22 L266.26 140.85 L267.19 141.48 L268.11 142.13 L269.03 142.79 L269.93 143.47 L270.83 144.15 L271.72 144.85 L272.59 145.56 L273.46 146.28 L274.32 147.02 L275.16 147.77 L275.99 148.52 L276.81 149.29 L277.62 150.08 L278.41 150.87 L279.19 151.68 L279.95 152.49 L280.70 153.32 L281.44 154.17 L282.16 155.02 L282.86 155.89 L283.55 156.76 L284.22 157.65 L284.87 158.55 L285.51 159.46 L286.12 160.39 L286.72 161.32 L287.30 162.27 L287.86 163.22 L288.40 164.19 L288.91 165.17 L289.41 166.17 L289.89 167.17 L290.34 168.19 L290.77 169.21 L291.18 170.25 L291.56 171.30 L291.93 172.36 L292.27 173.42 L292.59 174.50 L292.89 175.59 L293.17 176.68 L293.44 177.78 L293.69 178.89 L293.92 180.01 L294.13 181.13 L294.33 182.25 L294.52 183.38 L294.70 184.52 L294.86 185.65 L295.01 186.79 L295.15 187.94 L295.28 189.08 L295.40 190.22 L295.52 191.37 L295.62 192.51 L295.72 193.65 L295.82 194.80 L295.90 195.94 L295.99 197.07 L296.07 198.21 L296.15 199.34 L296.23 200.46 L296.36 202.05 L296.50 203.64 L296.63 205.23 L296.74 206.82 L296.82 208.41 L296.88 210.00 L296.91 211.59 L296.92 213.18 L296.94 214.77 L296.95 216.36 L296.96 217.95 L296.97 219.54 L296.98 221.13 L296.99 222.72 L296.99 224.31 L297.00 225.90 L297.00 227.49 L297.00 229.08 L297.00 230.66 L297.00 232.25 L297.00 233.84 L297.00 235.43 L297.00 237.02 L297.00 238.61 L297.00 240.20 L297.00 241.79 L297.00 243.38 L297.00 244.97 L297.00 246.56 L297.00 248.15 L297.00 249.74 L297.00 251.33 L297.00 252.92 L297.00 254.51 L297.00 256.10 L297.00 257.69 L297.00 259.28 L297.00 260.87 L297.00 262.45 L297.00 264.04 L297.00 265.63 L297.00 267.22 L297.00 268.81 L297.00 270.40 L297.00 271.99 L297.00 273.58 L297.00 275.17 L297.00 276.76 L297.00 278.35 L297.00 251.31 L297.51 251.39 L298.02 251.48 L298.53 251.56 L299.04 251.64 L299.55 251.72 L300.06 251.80 L300.57 251.88 L301.08 251.96 L301.59 252.04 L302.10 252.12 L302.62 252.21 L303.13 252.29 L303.64 252.37 L304.15 252.45 L304.66 252.53 L305.17 252.61 L305.68 252.69 L306.19 252.77 L306.70 252.86 L307.21 252.94 L307.72 253.02 L308.23 253.10 L308.74 253.18 L309.25 253.26 L309.76 253.34 L310.27 253.42 L310.79 253.50 L311.30 253.58 L311.81 253.66 L312.32 253.74 L312.83 253.83 L313.34 253.91 L313.85 253.99 L314.36 254.07 L314.87 254.15 L315.38 254.23 L315.89 254.31 L316.40 254.39 L316.91 254.47 L317.43 254.55 L317.94 254.63 L318.45 254.71 L318.96 254.79 L319.47 254.87 L319.98 254.95 L320.49 255.03 L321.00 255.11 L321.51 255.19 L322.02 255.27 L322.53 255.35 L323.04 255.43 L323.56 255.51 L324.07 255.59 L324.58 255.67 L325.09 255.75 L325.60 255.83 L326.11 255.91 L326.62 255.99 L327.13 256.07 L327.64 256.15 L328.15 256.23 L328.66 256.31 L329.18 256.39 L329.69 256.47 L330.20 256.55 L330.71 256.63 L331.22 256.71 L331.73 256.79 L332.24 256.86 L332.75 256.94 L333.26 257.02 L333.78 257.10 L334.29 257.18 L334.80 257.26 L335.31 257.34 L335.82 257.42 L336.33 257.50 L336.84 257.57 L337.35 257.65 L337.86 257.73 L338.38 257.81 L338.89 257.89 L339.40 257.97 L339.91 258.04 L340.42 258.12 L340.93 258.20 L341.44 258.28 L341.95 258.36 L342.46 258.43 L342.98 258.51 L343.49 258.59 L344.00 258.67 L344.51 258.74 L345.02 258.82 L345.53 258.90 L346.04 258.98 L346.56 259.05 L347.07 259.13 L347.58 259.21 L348.09 259.28 L348.60 259.36 L349.11 259.44 L349.62 259.51 L350.13 259.59 L350.65 259.67 L351.16 259.74 L351.67 259.82 L352.18 259.90 L352.69 259.97 L353.20 260.05 L353.72 260.12 L354.23 260.20 L354.74 260.28 L355.25 260.35 L355.76 260.43 L356.27 260.50 L356.78 260.58 L357.30 260.65 L357.81 260.73 L358.32 260.81 L358.83 260.88 L359.34 260.96 L359.85 261.03 L360.37 261.11 L360.88 261.18 L361.39 261.25 L361.90 261.33 L362.41 261.40 L362.92 261.48 L363.44 261.55 L363.95 261.63 L364.46 261.70 L364.97 261.77 L365.48 261.85 L366.00 261.92 L366.51 262.00 L367.02 262.07 L367.53 262.14 L368.04 262.22 L368.55 262.29 L369.07 262.36 L369.58 262.43 L370.09 262.51 L370.60 262.58 L371.11 262.65 L371.63 262.73 L372.14 262.80 L372.65 262.87 L373.16 262.94 L373.67 263.01 L374.19 263.09 L374.70 263.16 L375.21 263.23 L375.72 263.30 L376.24 263.37 L376.75 263.44 L377.26 263.51 L377.77 263.59 L378.28 263.66 L378.80 263.73 L379.31 263.80 L379.82 263.87 L380.33 263.94 L380.84 264.01 L381.36 264.08 L381.87 264.15 L382.38 264.22 L382.89 264.29 L383.41 264.36 L383.92 264.43 L384.43 264.50 L384.94 264.57 L385.46 264.64 L385.97 264.71 L386.48 264.78 L386.99 264.84 L387.51 264.91 L388.02 264.98 L388.53 265.05 L389.04 265.12 L389.56 265.19 L390.07 265.25 L390.58 265.32 L391.09 265.39 L391.61 265.46 L392.12 265.52 L392.63 265.59 L393.14 265.66 L393.66 265.73 L394.17 265.79 L394.68 265.86 L395.20 265.93 L395.71 265.99 L396.22 266.06 L396.73 266.12 L397.25 266.19 L397.76 266.26 L398.27 266.32 L398.79 266.39 L399.30 266.45 L399.81 266.52 L400.32 266.58 L400.84 266.65 L401.35 266.71 L401.86 266.78 L402.38 266.84 L402.89 266.91 L403.40 266.97 L403.92 267.03 L404.43 267.10 L404.94 267.16 L405.46 267.22 L405.97 267.29 L406.48 267.35 L407.00 267.41 L407.51 267.48 L408.02 267.54 L408.54 267.60 L409.05 267.66 L409.56 267.73 L410.08 267.79 L410.59 267.85 L411.10 267.91 L411.62 267.97 L412.13 268.03 L412.64 268.09 L413.16 268.16 L413.67 268.22 L414.18 268.28 L414.70 268.34 L415.21 268.40 L415.72 268.46 L416.24 268.52 L416.75 268.58 L417.26 268.64 L417.78 268.70 L418.29 268.76 L418.81 268.81 L419.32 268.87 L419.83 268.93 L420.35 268.99 L420.86 269.05 L421.37 269.11 L421.89 269.16 L422.40 269.22 L422.92 269.28 L423.43 269.34 L423.94 269.39 L424.46 269.45 L424.97 269.51 L425.49 269.56 L426.00 269.62 L426.51 269.68 L427.03 269.73 L427.54 269.79 L428.06 269.84 L428.57 269.90 L429.08 269.95 L429.60 270.01" stroke="#800080" stroke-width="2.0"/>
</g>
<rect x="59.3" y="0.55" width="370.45" height="277.8" fill="none" stroke="#111" stroke-width="1.4"/>
<text x="95.4" y="296.7" text-anchor="middle" font-size="16"  fill="#000" stroke="#000" stroke-width="0.1" >0.2</text>
<text x="145.7" y="296.7" text-anchor="middle" font-size="16"  fill="#000" stroke="#000" stroke-width="0.1" >0.4</text>
<text x="196.0" y="296.7" text-anchor="middle" font-size="16"  fill="#000" stroke="#000" stroke-width="0.1" >0.6</text>
<text x="246.3" y="296.7" text-anchor="middle" font-size="16"  fill="#000" stroke="#000" stroke-width="0.1" >0.8</text>
<text x="296.6" y="296.7" text-anchor="middle" font-size="16"  fill="#000" stroke="#000" stroke-width="0.1" >1.0</text>
<text x="346.9" y="296.7" text-anchor="middle" font-size="16"  fill="#000" stroke="#000" stroke-width="0.1" >1.2</text>
<text x="397.2" y="296.7" text-anchor="middle" font-size="16"  fill="#000" stroke="#000" stroke-width="0.1" >1.4</text>
<text x="54.9" y="88.54" text-anchor="end" font-size="16"  fill="#000" stroke="#000" stroke-width="0.1" >100</text>
<text x="54.9" y="140.38" text-anchor="end" font-size="16"  fill="#000" stroke="#000" stroke-width="0.1" >0.1</text>
<text x="54.8" y="36.8" text-anchor="end" font-size="16"  fill="#000" stroke="#000" stroke-width="0.1">10<tspan font-size="11.3" dx="-0.3" dy="-5.2">5</tspan></text>
<text x="54.8" y="192.3" text-anchor="end" font-size="16"  fill="#000" stroke="#000" stroke-width="0.1">10<tspan font-size="11.3" dx="-0.3" dy="-5.2">−4</tspan></text>
<text x="54.8" y="244.2" text-anchor="end" font-size="16"  fill="#000" stroke="#000" stroke-width="0.1">10<tspan font-size="11.3" dx="-0.3" dy="-5.2">−7</tspan></text>
<text x="229.8" y="321.6" font-size="15.4"  fill="#000" stroke="#000" stroke-width="0.25" font-style="italic">r</text>
<text x="237.9" y="322.8" font-size="18"  fill="#000" stroke="#000" stroke-width="0.25" font-style="normal">/</text>
<text x="245.0" y="321.6" font-size="15.4"  fill="#000" stroke="#000" stroke-width="0.25" font-style="italic">r</text>
<text x="250.6" y="324.0" font-size="10.6"  fill="#000" stroke="#000" stroke-width="0.25" font-style="italic">H</text>
<text x="255.6" y="40" font-size="17"  fill="#000" stroke="#000" stroke-width="0.25" font-style="italic">C</text>
<text x="267.2" y="42" font-size="12.3" letter-spacing="0.3"  fill="#000" stroke="#000" stroke-width="0.25" font-style="italic">μνρσ</text>
<text x="299.2" y="40" font-size="17"  fill="#000" stroke="#000" stroke-width="0.25" font-style="italic">C</text>
<text x="311.5" y="31.8" font-size="12.3" letter-spacing="0.3"  fill="#000" stroke="#000" stroke-width="0.25" font-style="italic">μνρσ</text>
<text x="343.3" y="40" font-size="17"  fill="#000" stroke="#000" stroke-width="0.25" font-style="italic">M</text>
<text transform="translate(357.4 31.6) scale(0.82 1)" font-size="12.3"  fill="#000" stroke="#000" stroke-width="0.25" font-style="normal">4</text>
<text x="357.9" y="43.7" font-size="11.6"  fill="#000" stroke="#000" stroke-width="0.25" font-style="normal">min</text>
<text x="379.9" y="40" font-size="17"  fill="#000" stroke="#000" stroke-width="0.25" font-style="normal">/</text>
<text x="387.1" y="40" font-size="17"  fill="#000" stroke="#000" stroke-width="0.25" font-style="italic">m</text>
<text transform="translate(401.3 31.6) scale(0.82 1)" font-size="12.3"  fill="#000" stroke="#000" stroke-width="0.25" font-style="normal">4</text>
<text x="401.3" y="43.6" font-size="12.3"  fill="#000" stroke="#000" stroke-width="0.25" font-style="normal">Pl</text>
<path d="M346.6 26.2 L350 22.8 L353.4 26.2" fill="none" stroke="#000" stroke-width="1.1"/>
</svg></body></html>
